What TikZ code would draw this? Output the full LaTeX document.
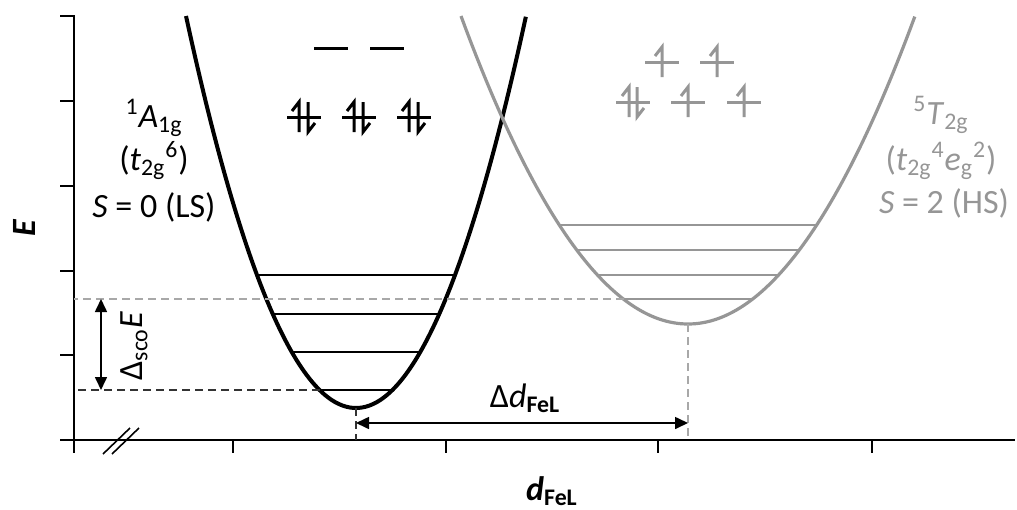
\documentclass[tikz,border=0pt]{standalone}
\usepackage{fontspec}
\setmainfont{Carlito}
\usetikzlibrary{arrows.meta}
\definecolor{hsgray}{RGB}{150,150,150}
\definecolor{dashgray}{RGB}{168,168,168}
% one orbital level and its electrons: colour, x, y
\newcommand\orblevel[3]{\draw[orb,#1] (#2-17,#3) -- (#2+17,#3);}
\newcommand\spinup[3]{\draw[orb,#1] (#2,#3+15) -- (#2,#3-15) -- (#2-7,#3-6);}
\newcommand\spindown[3]{\draw[orb,#1] (#2,#3-15) -- (#2,#3+15) -- (#2+7,#3+6);}
\begin{document}
\begin{tikzpicture}[x=0.5pt,y=-0.5pt,font=\fontsize{17}{20}\selectfont,
  axis/.style={line width=0.8pt,black},
  well/.style={line width=2pt,line join=round},
  vib/.style={line width=0.7pt},
  guide/.style={line width=0.7pt,dash pattern=on 4pt off 2.5pt},
  orb/.style={line width=1.5pt},
  span/.style={line width=0.8pt,<->,>={Triangle[length=6.5pt,width=6pt]}}]
\useasboundingbox (0,0) rectangle (1017,509);
% axes, with the break on the d axis
\draw[axis] (60,16) -- (74,16) -- (74,453);
\draw[axis] (60,440) -- (1015,440);
\foreach \y in {101,186,271,355}
  {\draw[axis] (60,\y) -- (74,\y);}
\foreach \x in {233,446,658,872}
  {\draw[axis] (\x,440) -- (\x,453);}
\draw[axis] (103,454) -- (130,428);
\draw[axis] (112,454) -- (139,428);
\node[rotate=90,font=\fontsize{17}{20}\selectfont\bfseries\itshape] (elabel) at (24,228) {E};
\node[font=\fontsize{17}{20}\selectfont\bfseries] (dlabel) at (552,491)
  {\textit{d}\textsubscript{FeL}};
% low-spin well and its levels
\coordinate (lsmin) at (356,408);
\draw[well,black] plot[domain=-1:1,samples=90,smooth] ({356+170*\x},{408-392*\x*\x});
\foreach \y/\w in {275/99, 314/83.3, 352/64.3, 390/36.4}
  {\draw[vib,black] (356-\w,\y) -- (356+\w,\y);}
\coordinate (lszero) at (319.6,390);
% high-spin well and its levels
\coordinate (hsmin) at (688,324);
\draw[well,hsgray,line width=1.6pt] plot[domain=-1:1,samples=90,smooth] ({688+227*\x},{324-308*\x*\x});
\foreach \y/\w in {225/128, 250/111, 275/90.4, 299/64.5}
  {\draw[vib,hsgray] (688-\w,\y) -- (688+\w,\y);}
\coordinate (hszero) at (623.5,299);
% guide lines down to the axes
\draw[guide,black!80] (lszero) -- (lszero -| 74,0);
\draw[guide,dashgray] (hszero) -- (hszero -| 74,0);
\draw[guide,black!80] (lsmin) -- (lsmin |- 0,440);
\draw[guide,dashgray] (hsmin) -- (hsmin |- 0,440);
% energy gap and bond length change
\coordinate (gaptop) at (101,299);
\coordinate (gapbot) at (101,390);
\draw[span] (gaptop) -- (gapbot);
\node[rotate=90] (gaplabel) at (134,346) {Δ\textsubscript{sco}\textit{E}};
\coordinate (ddleft) at (356,423);
\coordinate (ddright) at (688,423);
\draw[span] (ddleft) -- (ddright);
\node[anchor=base] (ddlabel) at (525,407)
  {Δ\textit{d}\textsubscript{\bfseries FeL}};
% state labels
\node[anchor=base] (lsterm) at (154,127) {\textsuperscript{1}\textit{A}\textsubscript{1g}};
\node[anchor=base] (lsconf) at (154,170) {(\textit{t}\textsubscript{2g}\textsuperscript{6})};
\node[anchor=base] (lsspin) at (154,217) {\textit{S} = 0 (LS)};
\node[anchor=base,text=hsgray] (hsterm) at (941,124) {\textsuperscript{5}\textit{T}\textsubscript{2g}};
\node[anchor=base,text=hsgray] (hsconf) at (941,170)
  {(\textit{t}\textsubscript{2g}\textsuperscript{4}\textit{e}\textsubscript{g}\textsuperscript{2})};
\node[anchor=base,text=hsgray] (hsspin) at (944,213) {\textit{S} = 2 (HS)};
% low-spin d6 filling
\foreach \x in {331,387}
  {\orblevel{black}{\x}{48}}
\foreach \x in {304,359,414}
  {\orblevel{black}{\x}{117}
   \spinup{black}{\x-5}{117}
   \spindown{black}{\x+4}{117}}
% high-spin d6 filling
\foreach \x in {662,717}
  {\orblevel{hsgray}{\x}{62}
   \spinup{hsgray}{\x}{62}}
\foreach \x in {633,688,744}
  {\orblevel{hsgray}{\x}{102}}
\spinup{hsgray}{629}{102}
\spindown{hsgray}{637}{102}
\spinup{hsgray}{688}{102}
\spinup{hsgray}{744}{102}
\end{tikzpicture}
\end{document}
